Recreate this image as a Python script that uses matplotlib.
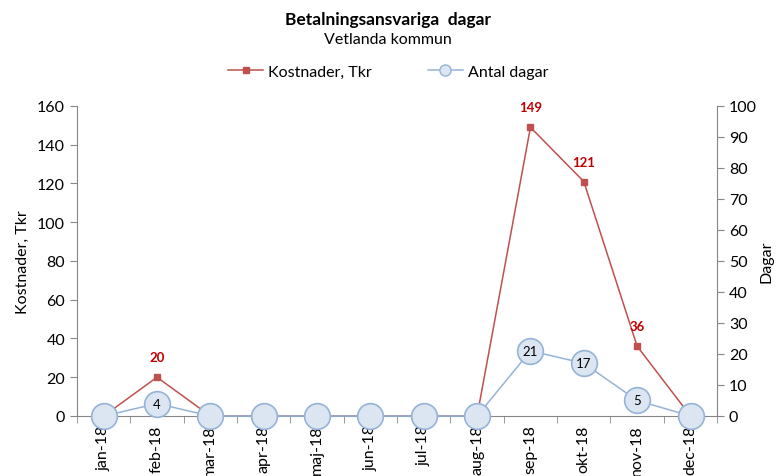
import matplotlib
matplotlib.use("Agg")
import matplotlib.pyplot as plt
from matplotlib.lines import Line2D
from matplotlib.ticker import FixedLocator, NullFormatter

# ── data ──────────────────────────────────────────────────────────────────────
months    = ["jan-18", "feb-18", "mar-18", "apr-18", "maj-18", "jun-18",
             "jul-18", "aug-18", "sep-18", "okt-18", "nov-18", "dec-18"]
kostnader = [0, 20, 0, 0, 0, 0, 0, 0, 149, 121, 36, 0]
dagar     = [0, 4, 0, 0, 0, 0, 0, 0, 21, 17, 5, 0]

RED       = "#C0504D"
RED_TXT   = "#C00000"
BLUE_LINE = "#95B3D7"
BLUE_FILL = "#DCE6F2"
AXIS      = "#868686"

plt.rcParams.update({
    "font.family": ["Lato", "DejaVu Sans"],
    "font.size":   11.5,
})

fig = plt.figure(figsize=(7.76, 4.77), dpi=100)
ax = fig.add_axes([0.0992, 0.1258, 0.8250, 0.6499])
ax2 = ax.twinx()

x = list(range(len(months)))

# red series on the lower axis, blue circles drawn on top via twin axis
ax.plot(x, kostnader, "-", color=RED, lw=1.1, marker="s", ms=5,
        mfc=RED, mec=RED, label="Kostnader, Tkr", zorder=3)
for xi, v in zip(x, kostnader):
    if v:
        ax.annotate(str(v), (xi, v), xytext=(0, 10), textcoords="offset points",
                    ha="center", va="bottom", color=RED_TXT, fontsize=9.5,
                    fontweight="bold")

ax2.plot(x, dagar, "-", color=BLUE_LINE, lw=1.1, marker="o", ms=18.5,
         mfc=BLUE_FILL, mec=BLUE_LINE, mew=1.2, label="Antal dagar",
         zorder=3, clip_on=False)
for xi, v in zip(x, dagar):
    if v:
        ax2.text(xi, v, str(v), ha="center", va="center", fontsize=9.5,
                 color="#000000", zorder=4)

ax.set_xlim(-0.5, len(months) - 0.5)
ax.set_ylim(0, 160)
ax2.set_ylim(0, 100)
ax.set_yticks(range(0, 161, 20))
ax2.set_yticks(range(0, 101, 10))

# category labels at centres, tick marks at boundaries
ax.xaxis.set_major_locator(FixedLocator(x))
ax.set_xticklabels(months, rotation=90)
ax.tick_params(axis="x", which="major", length=0, pad=6)
ax.xaxis.set_minor_locator(FixedLocator([i - 0.5 for i in range(len(months) + 1)]))
ax.xaxis.set_minor_formatter(NullFormatter())
ax.tick_params(axis="x", which="minor", length=5, color=AXIS)

ax.tick_params(axis="y", length=5, color=AXIS)
ax2.tick_params(axis="y", length=5, color=AXIS)

for a in (ax, ax2):
    a.spines["top"].set_visible(False)
    for s in ("left", "right", "bottom"):
        a.spines[s].set_color(AXIS)
ax.spines["right"].set_visible(False)
ax2.spines["left"].set_visible(False)
ax2.spines["bottom"].set_visible(False)

ax.set_ylabel("Kostnader, Tkr", fontsize=11.5, labelpad=5)
ax2.set_ylabel("Dagar", fontsize=11.5, labelpad=2)

fig.text(0.5, 0.958, "Betalningsansvariga  dagar", ha="center", va="center",
         fontsize=12.5, fontweight="bold")
fig.text(0.5, 0.916, "Vetlanda kommun", ha="center", va="center", fontsize=11.5)

h1, l1 = ax.get_legend_handles_labels()
h2 = [Line2D([0], [0], color=BLUE_LINE, lw=1.1, marker="o", ms=8,
             mfc=BLUE_FILL, mec=BLUE_LINE)]
fig.legend(h1 + h2, l1 + ["Antal dagar"], loc="center",
           bbox_to_anchor=(0.5, 0.848), ncol=2, frameon=False, fontsize=11.5,
           columnspacing=3.5, handlelength=2.2, handletextpad=0.3)

fig.savefig("out.png", dpi=100, facecolor="white")
